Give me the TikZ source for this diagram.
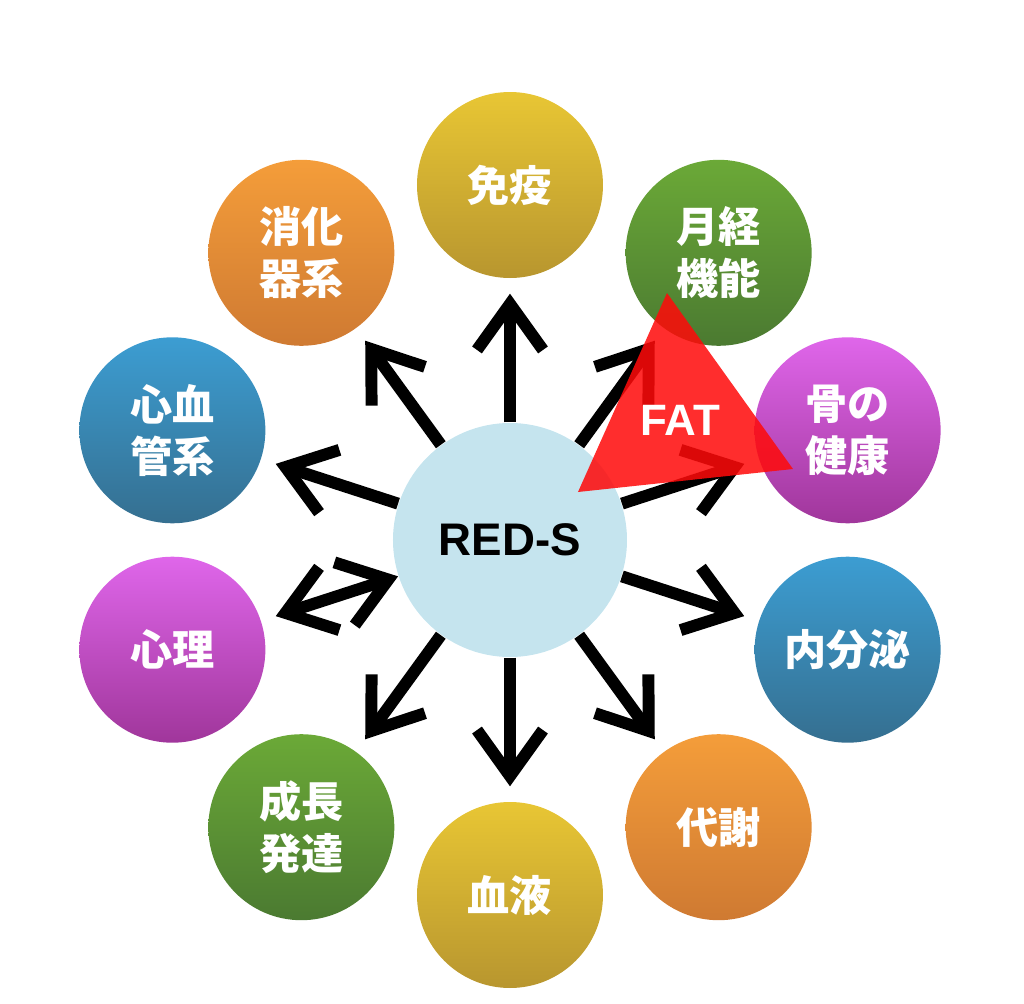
\documentclass[tikz,border=0pt]{standalone}
\usepackage{fontspec}
\setmainfont{Liberation Sans}
\newfontfamily\jp{Noto Sans CJK JP}
\usetikzlibrary{arrows.meta}

\definecolor{hubblue}{HTML}{C5E4EE}
\definecolor{goldtop}{HTML}{E8C634}
\definecolor{goldbot}{HTML}{B8962F}
\definecolor{greentop}{HTML}{6BA937}
\definecolor{greenbot}{HTML}{4B7A31}
\definecolor{pinktop}{HTML}{DF66EA}
\definecolor{pinkbot}{HTML}{A0369B}
\definecolor{bluetop}{HTML}{3C9DD2}
\definecolor{bluebot}{HTML}{356F90}
\definecolor{orangetop}{HTML}{F49D3A}
\definecolor{orangebot}{HTML}{CF7A32}
\definecolor{fatred}{HTML}{FF0A0A}

\begin{document}
\begin{tikzpicture}[
		topic/.style={circle, minimum size=1.86cm, inner sep=0pt, text=white, align=center,
			font=\jp\bfseries\fontsize{12}{14.8}\selectfont},
		spoke/.style={line width=3.4pt, shorten >=0.15cm},
		barb/.tip={Straight Barb[length=4.6mm, width=6.6mm, sharp]},
	]
		\useasboundingbox (-5.10,5.40) rectangle (5.14,-4.64);

		\node[circle, fill=hubblue, minimum size=2.34cm, inner sep=0pt,
			font=\bfseries\fontsize{13}{15}\selectfont] (reds) at (0, 0) {RED-S};

		\foreach \a/\name/\txt/\col in {90/immune/免疫/gold, 54/menses/月経\\機能/green,
				18/bone/骨の\\健康/pink, -18/endo/内分泌/blue, -54/metab/代謝/orange,
				-90/blood/血液/gold, -126/growth/成長\\発達/green, -162/psych/心理/pink,
				162/cardio/心血\\管系/blue, 126/digest/消化\\器系/orange}
			\node[topic, top color=\col top, bottom color=\col bot] (\name) at (\a:3.55) {\txt};

		\foreach \name in {immune, menses, bone, endo, metab, blood, growth, cardio, digest}
			\draw[spoke, -barb] (reds) -- (\name);
		\draw[spoke, barb-barb] (reds) -- (psych);

		\coordinate (ftop) at (1.57, 2.47);
		\coordinate (fleft) at (0.68, 0.48);
		\coordinate (fright) at (2.83, 0.71);
		\fill[fatred, opacity=0.86] (ftop) -- (fleft) -- (fright) -- cycle;
		\node[text=white, font=\bfseries\fontsize{12.5}{15}\selectfont] (fat) at (1.70, 1.20) {FAT};
	\end{tikzpicture}
\end{document}
